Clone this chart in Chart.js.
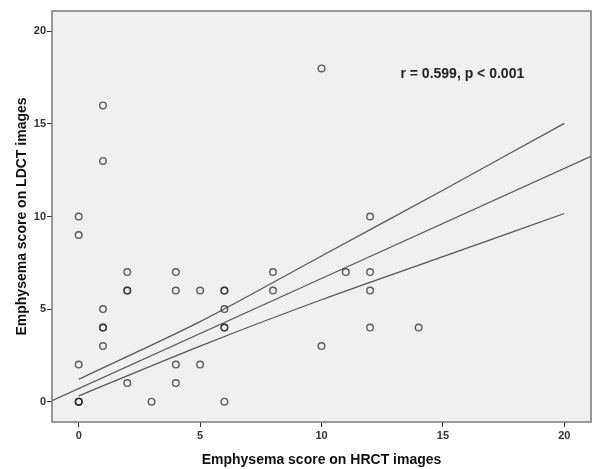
<!DOCTYPE html>
<html>
<head>
<meta charset="utf-8">
<title>Emphysema score LDCT vs HRCT</title>
<script src="https://cdn.jsdelivr.net/npm/chart.js@4.4.1/dist/chart.umd.min.js"></script>
<style>
  body { margin: 0; background: #fff; }
  canvas { display: block; }
</style>
</head>
<body>
<canvas id="scoreChart" width="592" height="469"></canvas>
<script>
// observed scores (one entry per patient, repeats overlap)
const hrctScore = [0, 0, 0, 0, 0, 0, 1, 1, 1, 1, 1, 1, 2, 2, 2, 2, 3, 4, 4, 4, 4, 5, 5,
    6, 6, 6, 6, 6, 6, 8, 8, 10, 10, 11, 12, 12, 12, 12, 14];
const ldctScore = [0, 0, 0, 2, 9, 10, 3, 4, 4, 5, 13, 16, 1, 6, 6, 7, 0, 1, 2, 6, 7, 2, 6,
    0, 4, 4, 5, 6, 6, 6, 7, 3, 18, 7, 4, 6, 7, 10, 4];

// fit line and 95% confidence band
const fitX = [-1.1, 21.1];
const fitY = [0.05, 13.25];
const bandX = [0, 5, 10, 15, 20];
const bandUpper = [1.21, 4.32, 7.87, 11.42, 15.03];
const bandLower = [0.31, 3.0, 5.5, 7.83, 10.16];

const xTicks = [0, 5, 10, 15, 20];
const yTicks = [0, 5, 10, 15, 20];

const statText = 'r = 0.599, p < 0.001';
const statAt = { x: 15.8, y: 17.7 };

const FONT = '"Liberation Sans", Arial, sans-serif';

function pairs(xs, ys) {
    return xs.map((x, i) => ({ x: x, y: ys[i] }));
}

const plotFrame = {
    id: 'plotFrame',
    beforeDraw(chart) {
        const { ctx, chartArea: a } = chart;
        ctx.save();
        ctx.fillStyle = '#f0f0f0';
        ctx.fillRect(a.left, a.top, a.right - a.left, a.bottom - a.top);
        ctx.restore();
    },
    afterDraw(chart) {
        const { ctx, chartArea: a } = chart;
        ctx.save();
        ctx.strokeStyle = '#7a7a7a';
        ctx.lineWidth = 1.5;
        ctx.strokeRect(a.left, a.top, a.right - a.left, a.bottom - a.top);
        ctx.restore();
    }
};

const statLabel = {
    id: 'statLabel',
    afterDatasetsDraw(chart) {
        const { ctx, scales } = chart;
        ctx.save();
        ctx.font = 'bold 14px ' + FONT;
        ctx.fillStyle = '#222';
        ctx.textAlign = 'center';
        ctx.textBaseline = 'middle';
        ctx.fillText(statText, scales.x.getPixelForValue(statAt.x), scales.y.getPixelForValue(statAt.y));
        ctx.restore();
    }
};

const lineStyle = {
    type: 'line',
    borderColor: '#555',
    borderWidth: 1.2,
    pointRadius: 0,
    fill: false,
    tension: 0.3
};

const ctx = document.getElementById('scoreChart').getContext('2d');
const scoreChart = new Chart(ctx, {
    type: 'scatter',
    data: {
        datasets: [
            {
                label: 'Patients',
                data: pairs(hrctScore, ldctScore),
                pointRadius: 3.3,
                pointBorderWidth: 1.4,
                pointBackgroundColor: 'rgba(0,0,0,0)',
                pointBorderColor: 'rgba(40,40,40,0.75)'
            },
            Object.assign({ label: 'Fit', data: pairs(fitX, fitY) }, lineStyle),
            Object.assign({ label: 'Upper', data: pairs(bandX, bandUpper) }, lineStyle),
            Object.assign({ label: 'Lower', data: pairs(bandX, bandLower) }, lineStyle)
        ]
    },
    options: {
        responsive: false,
        animation: false,
        layout: { autoPadding: false, padding: { top: 11, right: 1, left: 0, bottom: 0 } },
        plugins: {
            legend: { display: false },
            tooltip: { enabled: false }
        },
        scales: {
            x: {
                type: 'linear',
                min: -1.1,
                max: 21.1,
                afterBuildTicks: (s) => { s.ticks = xTicks.map(v => ({ value: v })); },
                afterFit: (s) => { s.height = 47; },
                border: { display: false },
                grid: { drawOnChartArea: false, drawTicks: true, tickLength: 5, tickColor: '#333', lineWidth: 1 },
                ticks: { padding: 2, color: '#333', font: { family: FONT, size: 11, weight: 'bold' } },
                title: {
                    display: true,
                    text: 'Emphysema score on HRCT images',
                    color: '#111',
                    font: { family: FONT, size: 14, weight: 'bold' },
                    padding: { top: 0, bottom: 0 }
                }
            },
            y: {
                type: 'linear',
                min: -1.1,
                max: 21.1,
                afterBuildTicks: (s) => { s.ticks = yTicks.map(v => ({ value: v })); },
                afterFit: (s) => { s.width = 52; },
                border: { display: false },
                grid: { drawOnChartArea: false, drawTicks: true, tickLength: 5, tickColor: '#333', lineWidth: 1 },
                ticks: { padding: 1, color: '#333', font: { family: FONT, size: 11, weight: 'bold' } },
                title: {
                    display: true,
                    text: 'Emphysema score on LDCT images',
                    color: '#111',
                    font: { family: FONT, size: 14, weight: 'bold' },
                    padding: { top: 14, bottom: 0 }
                }
            }
        }
    },
    plugins: [plotFrame, statLabel]
});
</script>
</body>
</html>
